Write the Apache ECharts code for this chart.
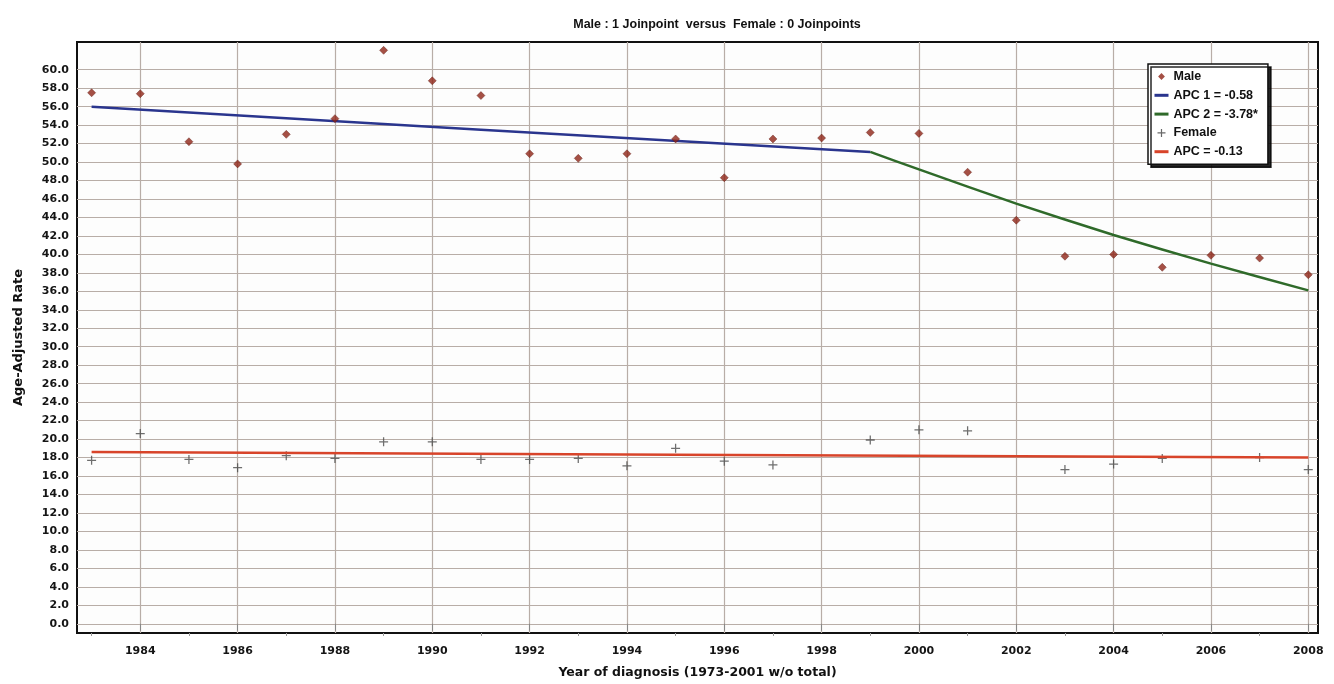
<!DOCTYPE html>
<html><head><meta charset="utf-8">
<script src="https://cdn.jsdelivr.net/npm/echarts@6/dist/echarts.min.js"></script>
<style>html,body{margin:0;padding:0;background:#fff}#c{width:1334px;height:684px}</style>
</head><body><div id="c"></div>
<script>
const chartTitle = 'Male : 1 Joinpoint  versus  Female : 0 Joinpoints';
const xAxisTitle = 'Year of diagnosis (1973-2001 w/o total)';
const yAxisTitle = 'Age-Adjusted Rate';

const maleYears = [1983,1984,1985,1986,1987,1988,1989,1990,1991,1992,1993,1994,1995,1996,1997,1998,1999,2000,2001,2002,2003,2004,2005,2006,2007,2008];
const maleRates = [57.5,57.4,52.2,49.8,53.0,54.7,62.1,58.8,57.2,50.9,50.4,50.9,52.5,48.3,52.5,52.6,53.2,53.1,48.9,43.7,39.8,40.0,38.6,39.9,39.6,37.8];

const femaleYears = [1983,1984,1985,1986,1987,1988,1989,1990,1991,1992,1993,1994,1995,1996,1997,1999,2000,2001,2003,2004,2005,2007,2008];
const femaleRates = [17.7,20.6,17.8,16.9,18.2,17.9,19.7,19.7,17.8,17.8,17.9,17.1,19.0,17.6,17.2,19.9,21.0,20.9,16.7,17.3,17.9,18.0,16.7];

const apc1Years = [1983,1991,1999];
const apc1Rates = [56.0,53.5,51.1];
const apc2Years = [1999,2000,2002,2004,2006,2008];
const apc2Rates = [51.1,49.2,45.5,42.1,39.0,36.1];
const femaleFitYears = [1983,1995,2008];
const femaleFitRates = [18.6,18.3,18.0];

const xLabelYears = [1984,1986,1988,1990,1992,1994,1996,1998,2000,2002,2004,2006,2008];
const xMinorYears = [1983,1985,1987,1989,1991,1993,1995,1997,1999,2001,2003,2005,2007];
const yTickValues = [0,2,4,6,8,10,12,14,16,18,20,22,24,26,28,30,32,34,36,38,40,42,44,46,48,50,52,54,56,58,60];

const legendNames = ['Male','APC 1 = -0.58','APC 2 = -3.78*','Female','APC = -0.13'];

const pair = (xs, ys) => xs.map((x, i) => [x, ys[i]]);
const plusPath = 'path://M4.3,0H5.7V4.3H10V5.7H5.7V10H4.3V5.7H0V4.3H4.3Z';
// legend glyphs padded inside a 14x10 box so they are not stretched
const legendDiamond = 'path://M7,1.6L10.4,5L7,8.4L3.6,5Z M0,0h0.01v0.01h-0.01Z M14,10h-0.01v-0.01h0.01Z';
const legendPlus = 'path://M6.4,1H7.6V4.4H11V5.6H7.6V9H6.4V5.6H3V4.4H6.4Z M0,0h0.01v0.01h-0.01Z M14,10h-0.01v-0.01h0.01Z';
const tickFont = {fontFamily:'DejaVu Sans, sans-serif', fontWeight:'bold', fontSize:11, color:'#151515'};
const gridColor = '#b8ada7';
const noSym = {color:'rgba(0,0,0,0)', borderWidth:0};

const chart = echarts.init(document.getElementById('c'), null, {renderer:'canvas'});
chart.setOption({
  backgroundColor:'#ffffff',
  animation:false,
  title:{text:chartTitle, left:712, top:13, textAlign:'center',
    textStyle:{fontFamily:'Liberation Sans, Arial, sans-serif', fontWeight:'bold', fontSize:12.5, color:'#111'}},
  grid:{left:77, right:16, top:42, bottom:50, show:true, borderColor:'#111', borderWidth:2, backgroundColor:'#fdfdfd'},
  legend:{
    orient:'vertical', left:1148, top:64, itemWidth:14, itemHeight:10, itemGap:5.8,
    padding:[6,10,6,5], backgroundColor:'#fff', borderColor:'#111', borderWidth:1.5,
    shadowColor:'rgba(0,0,0,0.85)', shadowOffsetX:3, shadowOffsetY:3, shadowBlur:0,
    textStyle:{fontFamily:'Liberation Sans, Arial, sans-serif', fontWeight:'bold', fontSize:12.5, color:'#111'},
    data:[
      {name:legendNames[0], icon:legendDiamond, itemStyle:{color:'#8e2416', borderWidth:0, borderColor:'rgba(0,0,0,0)'}},
      {name:legendNames[1], itemStyle:noSym, lineStyle:{width:3}},
      {name:legendNames[2], itemStyle:noSym, lineStyle:{width:3}},
      {name:legendNames[3], icon:legendPlus, itemStyle:{color:'#444', borderWidth:0}},
      {name:legendNames[4], itemStyle:noSym, lineStyle:{width:3}}
    ]
  },
  xAxis:[{
    type:'value', min:1982.7, max:2008.2,
    axisLine:{show:false},
    axisTick:{show:true, customValues:xLabelYears, length:7, lineStyle:{color:'#888'}},
    axisLabel:{customValues:xLabelYears, margin:13, ...tickFont, formatter:v=>String(v)},
    splitLine:{show:true, lineStyle:{color:gridColor, width:1.2}},
    name:xAxisTitle, nameLocation:'middle', nameGap:33,
    nameTextStyle:{fontFamily:'DejaVu Sans, sans-serif', fontWeight:'bold', fontSize:12.5, color:'#111'}
  },{
    type:'value', min:1982.7, max:2008.2, position:'bottom', gridIndex:0,
    axisLine:{show:false},
    axisTick:{show:true, customValues:xMinorYears, length:3, lineStyle:{color:'#999'}},
    axisLabel:{show:false},
    splitLine:{show:false}
  }],
  yAxis:{
    type:'value', min:-1, max:63,
    axisLine:{show:false},
    axisTick:{show:false, customValues:yTickValues},
    axisLabel:{customValues:yTickValues, margin:8, ...tickFont, formatter:v=>v.toFixed(1)},
    splitLine:{show:true, lineStyle:{color:gridColor, width:1.2}},
    name:yAxisTitle, nameLocation:'middle', nameGap:52, nameRotate:90,
    nameTextStyle:{fontFamily:'DejaVu Sans, sans-serif', fontWeight:'bold', fontSize:13, color:'#111'}
  },
  series:[
    {name:legendNames[0], type:'scatter', data:pair(maleYears, maleRates), symbol:'diamond', symbolSize:8,
      itemStyle:{color:'#8e2416', borderColor:'#5a140c', borderWidth:0.5}, z:4},
    {name:legendNames[1], type:'line', data:pair(apc1Years, apc1Rates), symbol:'none',
      lineStyle:{color:'#2a358e', width:2.5}, itemStyle:{color:'#2a358e'}, z:3},
    {name:legendNames[2], type:'line', data:pair(apc2Years, apc2Rates), symbol:'none', smooth:0.2,
      lineStyle:{color:'#2f6a2a', width:2.5}, itemStyle:{color:'#2f6a2a'}, z:3},
    {name:legendNames[3], type:'scatter', data:pair(femaleYears, femaleRates), symbol:plusPath, symbolSize:9,
      itemStyle:{color:'#4a4a4a'}, z:2},
    {name:legendNames[4], type:'line', data:pair(femaleFitYears, femaleFitRates), symbol:'none',
      lineStyle:{color:'#d8442a', width:2.5}, itemStyle:{color:'#d8442a'}, z:3}
  ]
});
</script></body></html>
